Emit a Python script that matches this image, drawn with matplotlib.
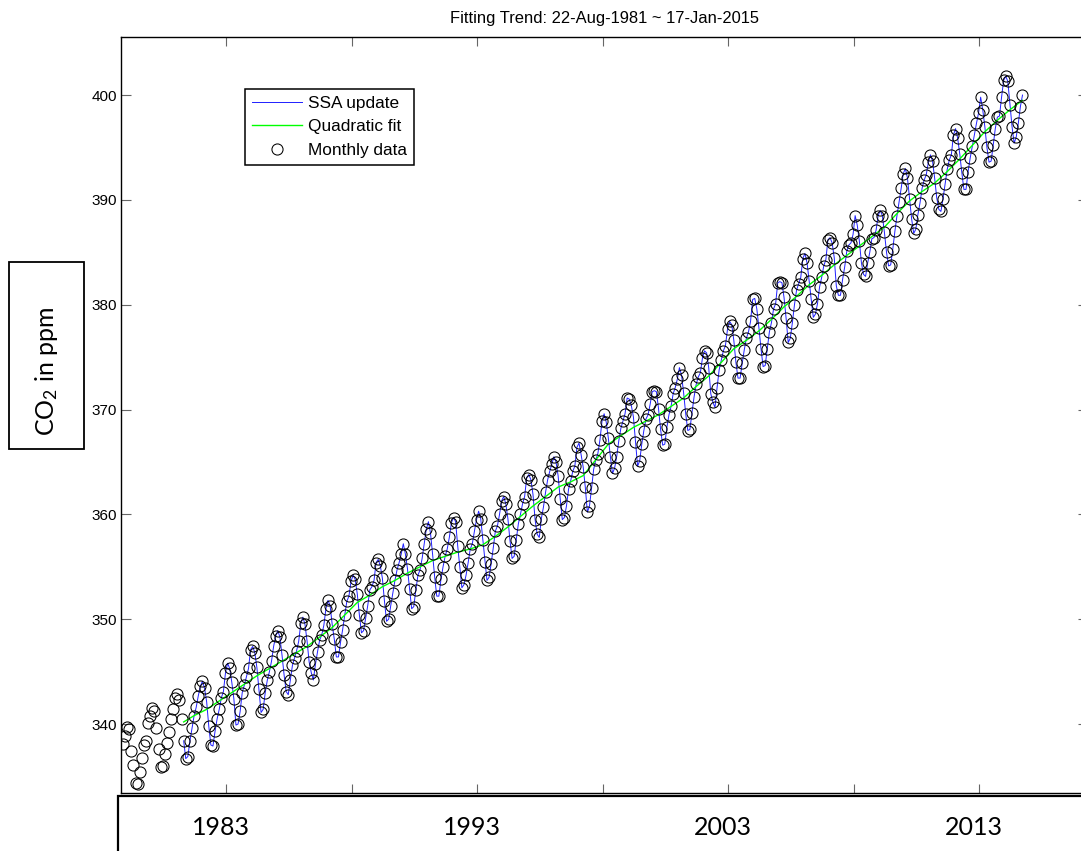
import numpy as np
import matplotlib
matplotlib.use('Agg')
import matplotlib.pyplot as plt
from matplotlib.patches import Rectangle
import matplotlib.transforms as mtransforms

### Data (monthly CO2, ppm) ###
first_year = 1979
first_month = 3   # record starts March 1979, one value per month

co2_monthly = [
    # 1979 (Mar-Dec)
    338.1, 338.9, 339.7, 339.5, 337.4, 336.1, 334.4, 334.3, 335.4, 336.8,
    # 1980
    338.0, 338.4, 340.1, 340.8, 341.5, 341.2, 339.6, 337.6, 335.9, 336.0, 337.1, 338.2,
    # 1981
    339.2, 340.5, 341.4, 342.5, 342.9, 342.3, 340.5, 338.4, 336.7, 336.9, 338.4, 339.6,
    # 1982
    340.8, 341.6, 342.7, 343.6, 344.1, 343.4, 342.1, 339.8, 338.0, 337.9, 339.3, 340.5,
    # 1983
    341.4, 342.5, 343.1, 344.9, 345.8, 345.3, 344.0, 342.4, 339.9, 340.0, 341.2, 343.0,
    # 1984
    343.7, 344.5, 345.3, 347.1, 347.4, 346.8, 345.4, 343.3, 341.1, 341.4, 343.0, 344.2,
    # 1985
    345.0, 346.0, 347.4, 348.4, 348.9, 348.3, 346.6, 344.7, 343.1, 342.8, 344.2, 345.6,
    # 1986
    346.3, 347.0, 347.9, 349.6, 350.2, 349.5, 347.9, 345.9, 344.9, 344.2, 345.7, 346.9,
    # 1987
    348.0, 348.5, 349.4, 351.0, 351.8, 351.3, 349.5, 348.1, 346.4, 346.4, 347.8, 349.0,
    # 1988
    350.4, 351.7, 352.2, 353.6, 354.2, 353.8, 352.4, 350.4, 348.7, 348.9, 350.1, 351.3,
    # 1989
    352.8, 353.1, 353.7, 355.4, 355.7, 355.1, 353.9, 351.7, 349.8, 350.0, 351.3, 352.5,
    # 1990
    353.7, 354.7, 355.4, 356.2, 357.2, 356.2, 354.8, 352.9, 351.0, 351.2, 352.8, 354.2,
    # 1991
    354.7, 355.8, 357.2, 358.6, 359.3, 358.2, 356.2, 354.0, 352.2, 352.2, 353.8, 355.0,
    # 1992
    356.0, 356.7, 357.8, 359.2, 359.7, 359.3, 357.0, 355.0, 353.0, 353.3, 354.2, 355.4,
    # 1993
    356.7, 357.2, 358.4, 359.5, 360.3, 359.6, 357.6, 355.5, 353.7, 354.0, 355.3, 356.8,
    # 1994
    358.4, 358.9, 360.0, 361.3, 361.7, 361.0, 359.6, 357.5, 355.8, 356.0, 357.6, 359.1,
    # 1995
    360.0, 361.0, 361.7, 363.5, 363.8, 363.3, 361.9, 359.5, 358.1, 357.8, 359.6, 360.7,
    # 1996
    362.1, 363.3, 364.1, 364.8, 365.5, 365.0, 363.7, 361.5, 359.5, 359.7, 360.8, 362.4,
    # 1997
    363.2, 364.1, 364.6, 366.4, 366.8, 365.7, 364.5, 362.6, 360.2, 360.8, 362.5, 364.3,
    # 1998
    365.2, 365.8, 367.1, 368.9, 369.6, 368.8, 367.3, 365.5, 363.9, 364.4, 365.5, 367.0,
    # 1999
    368.2, 368.9, 369.6, 371.1, 371.0, 370.4, 369.3, 366.9, 364.6, 365.1, 366.7, 368.0,
    # 2000
    369.1, 369.5, 370.5, 371.7, 371.8, 371.7, 370.1, 368.1, 366.6, 366.7, 368.3, 369.5,
    # 2001
    370.3, 371.5, 372.1, 372.9, 374.0, 373.3, 371.6, 369.6, 368.0, 368.1, 369.7, 371.2,
    # 2002
    372.4, 373.1, 373.5, 374.9, 375.6, 375.4, 374.0, 371.5, 370.7, 370.2, 372.1, 373.8,
    # 2003
    374.7, 375.6, 376.1, 377.7, 378.4, 378.1, 376.6, 374.5, 373.0, 373.0, 374.4, 375.7,
    # 2004
    376.8, 377.4, 378.4, 380.5, 380.6, 379.6, 377.8, 375.8, 374.1, 374.2, 375.8, 377.4,
    # 2005
    378.3, 379.6, 380.1, 382.1, 382.2, 382.1, 380.7, 378.7, 376.4, 376.8, 378.3, 380.0,
    # 2006
    381.4, 382.0, 382.6, 384.4, 384.9, 384.0, 382.3, 380.5, 378.8, 379.1, 380.1, 381.7,
    # 2007
    382.6, 383.7, 384.3, 386.2, 386.4, 385.9, 384.5, 381.8, 380.9, 380.9, 382.4, 383.6,
    # 2008
    385.1, 385.7, 385.9, 386.7, 388.5, 387.6, 386.1, 384.0, 382.9, 382.7, 384.0, 385.0,
    # 2009
    386.3, 386.4, 387.1, 388.5, 389.0, 388.5, 386.9, 385.0, 383.7, 383.8, 385.3, 387.0,
    # 2010
    388.5, 389.8, 391.1, 392.5, 393.0, 392.1, 390.1, 388.2, 386.8, 387.2, 388.6, 389.7,
    # 2011
    391.1, 391.9, 392.4, 393.6, 394.3, 393.7, 392.1, 390.2, 389.1, 388.9, 390.1, 391.5,
    # 2012
    392.9, 393.8, 394.3, 396.2, 396.8, 395.9, 394.4, 392.6, 391.0, 391.0, 392.7, 394.0,
    # 2013
    395.1, 396.2, 397.3, 398.3, 399.8, 398.6, 397.0, 395.0, 393.6, 393.7, 395.2, 396.8,
    # 2014
    397.9, 398.0, 399.8, 401.4, 401.8, 401.3, 399.1, 397.0, 395.4, 396.0, 397.3, 398.9,
    # 2015
    400.0,
]

# fitting window starts Aug 1981 (SSA update follows the monthly record from there)
fit_start_year = 1981
fit_start_month = 8

# trend curve: Aug 1981, then every half year from Jan 1982 to Jan 2015
trend_ppm = [
    340.2,
    340.8, 341.4, 342.2, 343.0, 343.8, 344.6, 345.3, 346.0, 346.7, 347.4,
    348.3, 349.2, 350.4, 351.6, 352.3, 353.1, 353.7, 354.4, 355.0, 355.6,
    356.0, 356.4, 356.7, 357.1, 357.9, 358.8, 359.8, 360.8, 361.7, 362.6,
    363.1, 363.7, 365.2, 366.7, 367.5, 368.3, 368.9, 369.5, 370.3, 371.1,
    372.2, 373.2, 374.5, 375.8, 376.6, 377.5, 378.6, 379.8, 380.8, 381.9,
    382.8, 383.8, 384.7, 385.6, 386.5, 387.4, 388.7, 389.9, 390.8, 391.6,
    392.7, 393.9, 395.2, 396.5, 397.6, 398.6, 399.5,
]

year_labels = ['1983', '1993', '2003', '2013']

### Build time axes ###
co2_monthly = np.array(co2_monthly)
t_month = first_year + (first_month - 1) / 12.0 + np.arange(len(co2_monthly)) / 12.0
i_fit = (fit_start_year - first_year) * 12 + (fit_start_month - first_month)
t_fit = t_month[i_fit:]
ssa_ppm = co2_monthly[i_fit:]
t_trend = np.concatenate(([t_month[i_fit]], 1982 + 0.5 * np.arange(len(trend_ppm) - 1)))

### Figure ###
plt.rcParams['font.family'] = ['Liberation Sans', 'DejaVu Sans']
plt.rcParams['mathtext.fontset'] = 'custom'
plt.rcParams['mathtext.rm'] = 'Lato'
plt.rcParams['mathtext.it'] = 'Lato:italic'
plt.rcParams['mathtext.bf'] = 'Lato:bold'

W, H = 1081, 851
fig = plt.figure(figsize=(W / 100, H / 100), dpi=100)
ax = fig.add_axes([121 / W, 58 / H, 967 / W, 756 / H])

line_ssa, = ax.plot(t_fit, ssa_ppm, color='#1f1fff', lw=0.7)
line_fit, = ax.plot(t_trend, trend_ppm, color='#00ff00', lw=1.0)
pts, = ax.plot(t_month, co2_monthly, 'o', mfc='none', mec='black', ms=8.0, mew=0.75,
               linestyle='none')

ax.set_xlim(1979.087, 2017.61)
ax.set_ylim(333.42, 405.54)
ax.set_yticks(np.arange(340, 401, 10))
ax.set_xticks(1983.27 + 5 * np.arange(7))

ax.tick_params(axis='both', direction='in', top=True, right=True, labelbottom=False,
               width=0.8, color='0.4', labelsize=11, pad=3)
ax.tick_params(axis='y', length=7.2)
ax.tick_params(axis='x', length=6.5)
for s in ax.spines.values():
    s.set_linewidth(1.0)

leg = ax.legend([line_ssa, line_fit, pts], ['SSA update', 'Quadratic fit', 'Monthly data'],
                loc='upper left', bbox_to_anchor=(0.1282, 0.9312), borderaxespad=0,
                prop={'size': 12.4}, frameon=True, fancybox=False, framealpha=1,
                edgecolor='black', handlelength=2.9, handletextpad=0.35,
                labelspacing=0.47, borderpad=0.42)
leg.get_frame().set_linewidth(1.1)

# title
fig.text(604.5 / W, 1 - 23 / H, 'Fitting Trend: 22-Aug-1981 ~ 17-Jan-2015',
         ha='center', va='baseline', fontsize=11.9)

# y-label in its own box
fig.add_artist(Rectangle((9 / W, 1 - 449 / H), 75 / W, 187 / H, transform=fig.transFigure,
                         fill=False, lw=1.3, edgecolor='black'))
fig.text(47 / W, 1 - 371 / H, 'CO$_2$ in ppm', rotation=90, ha='center', va='center',
         fontsize=18, family='Lato')

# year labels in a box under the axes
fig.add_artist(Rectangle((118 / W, -0.1), 1.0, 0.1 + (H - 796) / H, transform=fig.transFigure,
                         fill=False, lw=1.6, edgecolor='black', clip_on=False))
trans = mtransforms.blended_transform_factory(ax.transData, fig.transFigure)
for lab in year_labels:
    ax.text(int(lab) + 0.08, 16 / H, lab, transform=trans, ha='center', va='baseline',
            fontsize=18, family='Lato', clip_on=False)

fig.savefig('out.png', dpi=100)
